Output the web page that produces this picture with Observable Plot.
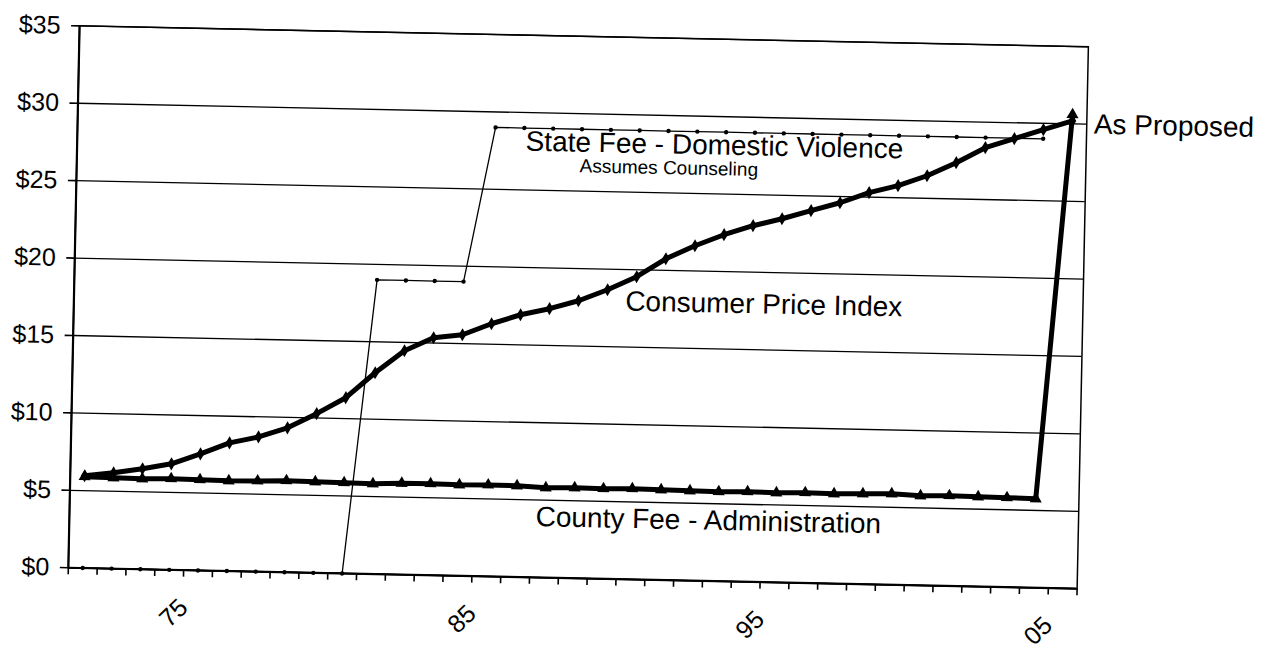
<!DOCTYPE html>
<html>
<head>
<meta charset="utf-8">
<script src="https://cdn.jsdelivr.net/npm/d3@7"></script>
<script src="https://cdn.jsdelivr.net/npm/@observablehq/plot@0.6"></script>
<style>
html, body { margin: 0; padding: 0; background: #fff; }
#chart svg { display: block; transform: rotate(1.19deg); transform-origin: 637px 325px; }
</style>
</head>
<body>
<div id="chart"></div>
<script>
// Categories (years) and tick labels
const years = [1971, 1972, 1973, 1974, 1975, 1976, 1977, 1978, 1979, 1980,
               1981, 1982, 1983, 1984, 1985, 1986, 1987, 1988, 1989, 1990,
               1991, 1992, 1993, 1994, 1995, 1996, 1997, 1998, 1999, 2000,
               2001, 2002, 2003, 2004, 2005];
const xLabelYears = [1975, 1985, 1995, 2005];
const xLabels = ["75", "85", "95", "05"];
const yTicks = [0, 5, 10, 15, 20, 25, 30, 35];

// Series values ($)
const cpiValues = [5.96, 6.19, 6.49, 6.85, 7.53, 8.28, 8.70, 9.33, 10.28, 11.35,
                   13.00, 14.46, 15.34, 15.57, 16.32, 16.94, 17.37, 17.92, 18.67, 19.55,
                   20.75, 21.63, 22.38, 23.00, 23.49, 24.05, 24.60, 25.29, 25.78, 26.46,
                   27.34, 28.35, 28.97, 29.59, 30.20];
const countyValues = [5.90, 5.87, 5.84, 5.89, 5.86, 5.83, 5.86, 5.91, 5.88, 5.86,
                      5.83, 5.90, 5.91, 5.88, 5.91, 5.89, 5.80, 5.84, 5.82, 5.86,
                      5.83, 5.80, 5.78, 5.82, 5.79, 5.83, 5.80, 5.84, 5.88, 5.79,
                      5.83, 5.80, 5.78, 5.75, 30.60];
const stateValues = [0, 0, 0, 0, 0, 0, 0, 0, 0, 0,
                     19, 19, 19, 19, 29, 29, 29, 29, 29, 29,
                     29, 29, 29, 29, 29, 29, 29, 29, 29, 29,
                     29, 29, 29, 29, null];

const seriesLabels = {
  state: "State Fee - Domestic Violence",
  stateNote: "Assumes Counseling",
  cpi: "Consumer Price Index",
  county: "County Fee - Administration",
  proposed: "As Proposed"
};

const rows = vals => years.map((year, i) => ({year, value: vals[i]})).filter(d => d.value != null);
const cpi = rows(cpiValues);
const county = rows(countyValues);
const state = rows(stateValues);
const bounds = years.map(y => y - 0.5).concat([years[years.length - 1] + 0.5]);
const at = (data, yr) => data.filter(d => d.year === yr);

const chart = Plot.plot({
  width: 1274,
  height: 650,
  marginLeft: 73,
  marginRight: 192,
  marginTop: 37,
  marginBottom: 71,
  x: {domain: [1970.5, 2005.5], label: null},
  y: {domain: [0, 35], label: null},
  style: {fontFamily: "'Liberation Sans', Arial, sans-serif", background: "white", color: "black", overflow: "visible"},
  marks: [
    Plot.ruleY(yTicks, {stroke: "black", strokeWidth: 1.3}),
    Plot.frame({stroke: "black", strokeWidth: 1.5}),
    Plot.ruleX([1970.5], {stroke: "black", strokeWidth: 2.2}),
    Plot.ruleY([0], {stroke: "black", strokeWidth: 2.2}),
    Plot.axisY(yTicks, {tickSize: 8, tickPadding: 11, tickFormat: d => "$" + d, fontSize: 25, strokeWidth: 1.6}),
    Plot.axisX(bounds, {tickSize: 7, fill: "none", strokeWidth: 1.6}),
    Plot.text(xLabelYears, {x: d => d, frameAnchor: "bottom", text: (d, i) => xLabels[i],
      rotate: -45, textAnchor: "end", dx: -8, dy: 39, fontSize: 25, fill: "black"}),

    // State fee (thin)
    Plot.line(state, {x: "year", y: "value", stroke: "black", strokeWidth: 1.3}),
    Plot.dot(state, {x: "year", y: "value", r: 2.2, fill: "black", stroke: null}),

    // CPI (thick)
    Plot.line(cpi, {x: "year", y: "value", stroke: "black", strokeWidth: 5, strokeLinejoin: "round", strokeLinecap: "round"}),
    Plot.dot(cpi, {x: "year", y: "value", symbol: "diamond", r: 4, fill: "black", stroke: null}),

    // County fee (thick)
    Plot.line(county, {x: "year", y: "value", stroke: "black", strokeWidth: 5, strokeLinejoin: "round", strokeLinecap: "round"}),
    Plot.dot(county, {x: "year", y: "value", symbol: "triangle", r: 4.5, fill: "black", stroke: null}),

    // Series labels, anchored to data points
    Plot.text(at(state, 1986), {x: "year", y: "value", text: () => seriesLabels.state,
      textAnchor: "start", dx: 1.5, dy: 13.5, fontSize: 28, fill: "black"}),
    Plot.text(at(state, 1986), {x: "year", y: "value", text: () => seriesLabels.stateNote,
      textAnchor: "start", dx: 56, dy: 37, fontSize: 19, fill: "black"}),
    Plot.text(at(cpi, 1989), {x: "year", y: "value", text: () => seriesLabels.cpi,
      textAnchor: "start", dx: 18, dy: 11.5, fontSize: 28, fill: "black"}),
    Plot.text(at(county, 1987), {x: "year", y: "value", text: () => seriesLabels.county,
      textAnchor: "start", dx: -9.5, dy: 29.5, fontSize: 28, fill: "black"}),
    Plot.text(at(county, 2005), {x: "year", y: "value", text: () => seriesLabels.proposed,
      textAnchor: "start", dx: 21.5, dy: 9.5, fontSize: 28, fill: "black"})
  ]
});
document.getElementById("chart").appendChild(chart);
</script>
</body>
</html>
